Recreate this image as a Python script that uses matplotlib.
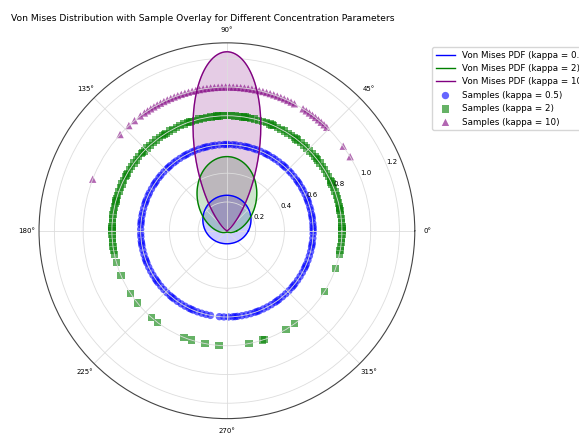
import numpy as np
import matplotlib.pyplot as plt

kappas = [0.5, 2, 10]
mu_deg = 90
colors = ['blue', 'green', 'purple']
markers = ['o', 's', '^']
sample_r = [0.6, 0.8, 1.0]

# sample angles (degrees)
samples_05 = [0, 3, 5, 8, 11, 14, 16, 19, 22, 25, 28, 30, 33, 36, 39, 42, 44, 47, 50,
              53, 56, 58, 61, 64, 67, 70, 72, 75, 78, 81, 84, 86, 89, 92, 95, 98, 100,
              103, 106, 109, 112, 114, 117, 120, 123, 126, 128, 131, 134, 137, 140, 142,
              145, 148, 151, 154, 156, 159, 162, 165, 168, 170, 173, 176, 179, 182, 184,
              187, 190, 193, 196, 199, 202, 205, 208, 211, 214, 217, 220, 223, 226, 229,
              232, 235, 238, 241, 244, 247, 250, 253, 256, 259, 265, 268, 271, 274, 277,
              280, 283, 286, 289, 292, 295, 298, 301, 304, 307, 310, 313, 316, 319, 322,
              325, 328, 331, 334, 337, 340, 343, 346, 349, 352, 355, 358,
              1.5, 9.5, 20.5, 34.5, 48.5, 62.5, 76.5, 90.5, 104.5, 118.5, 132.5, 146.5,
              160.5, 174.5, 188.5, 200.5, 215.5, 230.5, 245.5, 275.5, 290.5, 305.5,
              320.5, 335.5, 350.5]
samples_2 = [348, 350, 352, 354, 356, 358, 0, 2, 4, 6, 8, 10, 12, 14, 16, 18, 20, 22,
             24, 26, 28, 30, 32, 34, 36, 38, 40, 42, 44, 46, 48, 50, 52, 54, 56, 58, 60,
             62, 64, 66, 68, 70, 72, 74, 76, 78, 80, 82, 84, 86, 88, 90, 92, 94, 96, 98,
             100, 102, 104, 106, 108, 110, 112, 114, 116, 118, 120, 122, 124, 126, 128,
             130, 132, 134, 136, 138, 140, 142, 144, 146, 148, 150, 152, 154, 156, 158,
             160, 162, 164, 166, 168, 170, 172, 174, 176, 178, 180, 182, 184, 186, 188,
             190, 192, 196, 203, 213, 219, 229, 233, 248, 252, 259, 266, 281, 288, 289,
             301, 306, 328, 341,
             1, 11, 25, 39, 53, 67, 81, 95, 109, 123, 137, 151, 165, 179]
samples_10 = [31, 36, 46, 47.5, 49, 50.5, 52, 53.5, 55, 56.5, 58, 62, 63.5, 65, 66.5,
              68, 69.5, 71, 72.5, 74, 75.5, 77, 78.5, 80, 81.5, 83, 84.5, 86, 87.5, 89,
              90.5, 92, 93.5, 95, 96.5, 98, 99.5, 101, 102.5, 104, 105.5, 107, 108.5,
              110, 111.5, 113, 114.5, 116, 117.5, 119, 120.5, 122, 123.5, 125, 127, 130,
              133, 138, 159]
samples = [samples_05, samples_2, samples_10]
labels = ['0.5', '2', '10']

fig = plt.figure(figsize=(5.79, 4.37), dpi=100)
ax = fig.add_axes([0.0674, 0.042, 0.649, 0.86], projection='polar')

theta = np.linspace(0, 2 * np.pi, 500)
mu = np.deg2rad(mu_deg)
for kappa, c, lab in zip(kappas, colors, labels):
    pdf = np.exp(kappa * np.cos(theta - mu)) / (2 * np.pi * np.i0(kappa))
    ax.plot(theta, pdf, color=c, lw=1, label=f'Von Mises PDF (kappa = {lab})')
    ax.fill(theta, pdf, color=c, alpha=0.2)

for s, r, c, m, lab in zip(samples, sample_r, colors, markers, labels):
    ang = np.deg2rad(s)
    ax.scatter(ang, np.full(len(ang), r), color=c, marker=m, s=28, alpha=0.6,
               edgecolors='none', label=f'Samples (kappa = {lab})')

ax.set_ylim(0, 1.307)
ax.set_rticks([0.2, 0.4, 0.6, 0.8, 1.0, 1.2])
ax.set_rlabel_position(22.5)
ax.tick_params(labelsize=5)
ax.tick_params(axis='x', pad=-1.5)
ax.grid(True, color='#dddddd', lw=0.6)
ax.spines['polar'].set_color('#444444')
ax.spines['polar'].set_linewidth(0.8)

ax.legend(loc='upper left', bbox_to_anchor=(1.035, 1.0), fontsize=6.3, frameon=True,
          handlelength=2.2, labelspacing=0.5)
fig.text(0.351, 0.958, 'Von Mises Distribution with Sample Overlay for Different Concentration Parameters',
         ha='center', va='center', fontsize=6.6)

fig.savefig('out.png', dpi=100)
